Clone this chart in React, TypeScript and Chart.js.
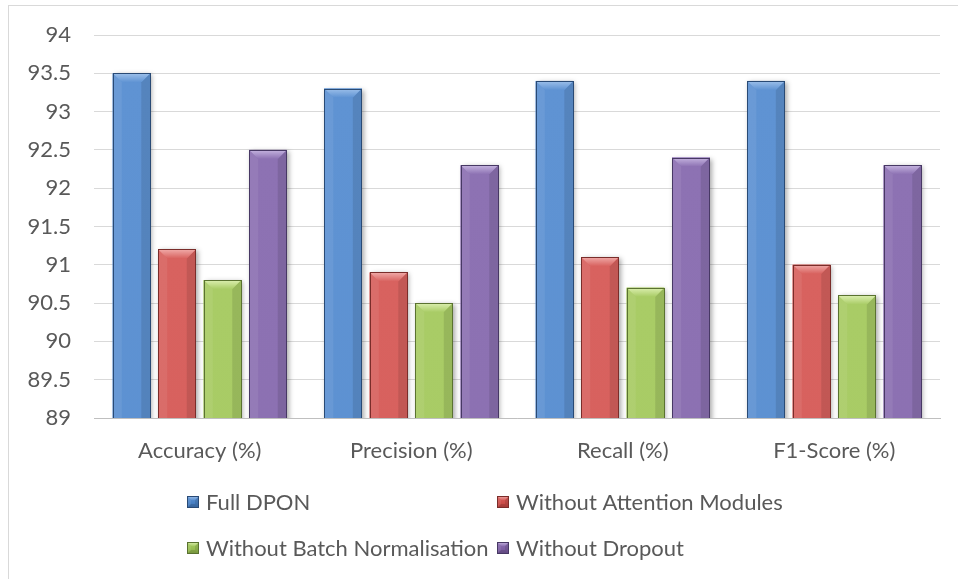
import React, { useEffect, useRef } from "react";
import { Chart, registerables } from "chart.js";

Chart.register(...registerables);

const categories = ["Accuracy (%)", "Precision (%)", "Recall (%)", "F1-Score (%)"];
const seriesNames = [
  "Full DPON",
  "Without Attention Modules",
  "Without Batch Normalisation",
  "Without Dropout",
];
const fullDpon = [93.5, 93.3, 93.4, 93.4];
const withoutAttention = [91.2, 90.9, 91.1, 91.0];
const withoutBatchNorm = [90.8, 90.5, 90.7, 90.6];
const withoutDropout = [92.5, 92.3, 92.4, 92.3];
const yMin = 89;
const yMax = 94;
const yStep = 0.5;

const seriesValues = [fullDpon, withoutAttention, withoutBatchNorm, withoutDropout];

const palette = [
  { light: "#9dc0ea", top: "#5f93d3", base: "#4a82c6", bottom: "#3b6fb0", edge: "#294a75" },
  { light: "#f0aaa8", top: "#d8625f", base: "#cd4f4b", bottom: "#b8403c", edge: "#7a2d2a" },
  { light: "#dcefb0", top: "#a9cc66", base: "#9bc155", bottom: "#86a944", edge: "#5a7230" },
  { light: "#c6b5e0", top: "#8d72b3", base: "#8062a6", bottom: "#6e5392", edge: "#473864" },
];

const FONT = "Lato, 'Open Sans', sans-serif";
const FONT_SIZE = 22;
const TEXT = "#595959";

function drawBevelBox(
  ctx: CanvasRenderingContext2D,
  left: number,
  top: number,
  right: number,
  bottom: number,
  pal: any,
  bev: number,
  shadow: boolean
) {
  const w = right - left;
  const h = bottom - top;
  if (w <= 0 || h <= 0) return;
  const b = Math.min(bev, w / 3, h / 2);
  ctx.save();
  if (shadow) {
    ctx.save();
    ctx.shadowColor = "rgba(0,0,0,0.35)";
    ctx.shadowBlur = 5;
    ctx.shadowOffsetX = 2;
    ctx.shadowOffsetY = 1;
    ctx.fillStyle = pal.base;
    ctx.fillRect(left, top, w, h);
    ctx.restore();
  }
  const g = ctx.createLinearGradient(0, top, 0, bottom);
  g.addColorStop(0, pal.top);
  g.addColorStop(0.5, pal.base);
  g.addColorStop(1, pal.bottom);
  ctx.fillStyle = g;
  ctx.fillRect(left, top, w, h);
  ctx.fillStyle = "rgba(255,255,255,0.07)";
  ctx.beginPath();
  ctx.moveTo(left, top);
  ctx.lineTo(left + b, top + b);
  ctx.lineTo(left + b, bottom - b);
  ctx.lineTo(left, bottom);
  ctx.closePath();
  ctx.fill();
  ctx.fillStyle = "rgba(0,0,0,0.10)";
  ctx.beginPath();
  ctx.moveTo(right, top);
  ctx.lineTo(right - b, top + b);
  ctx.lineTo(right - b, bottom - b);
  ctx.lineTo(right, bottom);
  ctx.closePath();
  ctx.fill();
  ctx.fillStyle = "rgba(0,0,0,0.12)";
  ctx.beginPath();
  ctx.moveTo(left, bottom);
  ctx.lineTo(left + b, bottom - b);
  ctx.lineTo(right - b, bottom - b);
  ctx.lineTo(right, bottom);
  ctx.closePath();
  ctx.fill();
  const tg = ctx.createLinearGradient(0, top, 0, top + b);
  tg.addColorStop(0, pal.light);
  tg.addColorStop(1, pal.top);
  ctx.fillStyle = tg;
  ctx.beginPath();
  ctx.moveTo(left, top);
  ctx.lineTo(right, top);
  ctx.lineTo(right - b, top + b);
  ctx.lineTo(left + b, top + b);
  ctx.closePath();
  ctx.fill();
  ctx.strokeStyle = pal.edge;
  ctx.lineWidth = 1;
  ctx.strokeRect(Math.round(left) + 0.5, Math.round(top) + 0.5, Math.round(w) - 1, Math.round(h) - 1);
  ctx.restore();
}

const bevelPlugin = {
  id: "bevelBars",
  afterDatasetsDraw(chart: any) {
    const ctx = chart.ctx as CanvasRenderingContext2D;
    const area = chart.chartArea;
    ctx.save();
    ctx.beginPath();
    ctx.rect(area.left, area.top - 2, area.right - area.left + 10, area.bottom - area.top + 2);
    ctx.clip();
    chart.data.datasets.forEach((_ds: any, di: number) => {
      const meta = chart.getDatasetMeta(di);
      meta.data.forEach((el: any) => {
        const p = el.getProps(["x", "y", "base", "width"], true);
        const left = p.x - p.width / 2;
        const right = p.x + p.width / 2;
        const top = Math.min(p.y, p.base);
        const bottom = Math.max(p.y, p.base);
        drawBevelBox(ctx, left, top, right, bottom, palette[di], 9, true);
      });
    });
    ctx.restore();
  },
};

const legendPlugin = {
  id: "gridLegend",
  afterDraw(chart: any) {
    const ctx = chart.ctx as CanvasRenderingContext2D;
    const cols = [178, 488];
    const rows = [496, 542];
    ctx.save();
    ctx.font = `${FONT_SIZE}px ${FONT}`;
    ctx.textBaseline = "middle";
    seriesNames.forEach((name, i) => {
      const cx = cols[i % 2];
      const cy = rows[Math.floor(i / 2)];
      drawBevelBox(ctx, cx, cy - 6, cx + 12, cy + 6, palette[i], 4, false);
      ctx.fillStyle = TEXT;
      ctx.fillText(name, cx + 19, cy + 1);
    });
    ctx.restore();
  },
};

export default function App() {
  const ref = useRef<HTMLCanvasElement | null>(null);

  useEffect(() => {
    if (!ref.current) return;
    const chart = new Chart(ref.current, {
      type: "bar",
      data: {
        labels: categories,
        datasets: seriesNames.map((name, i) => ({
          label: name,
          data: seriesValues[i],
          backgroundColor: palette[i].base,
          borderWidth: 0,
          categoryPercentage: 0.86,
          barPercentage: 0.825,
        })),
      },
      options: {
        responsive: false,
        animation: false,
        devicePixelRatio: 1,
        layout: { padding: { top: 29, right: 18, left: 0, bottom: 0 } },
        plugins: {
          legend: { display: false },
          tooltip: { enabled: false },
          title: { display: false },
        },
        scales: {
          x: {
            grid: { display: false, drawTicks: false },
            border: { display: true, color: "#bfbfbf", width: 1 },
            ticks: {
              color: TEXT,
              font: { family: FONT, size: FONT_SIZE },
              padding: 20,
              maxRotation: 0,
              autoSkip: false,
            },
            afterFit: (s: any) => {
              s.height = 161;
              s.paddingLeft = 0;
              s.paddingRight = 0;
            },
          },
          y: {
            min: yMin,
            max: yMax,
            grid: { color: "#d9d9d9", lineWidth: 1, drawTicks: false },
            border: { display: false },
            ticks: {
              stepSize: yStep,
              color: TEXT,
              font: { family: FONT, size: FONT_SIZE },
              padding: 23,
              callback: (v: any) => String(Math.round(Number(v) * 10) / 10),
            },
            afterFit: (s: any) => {
              s.width = 85;
              s.paddingTop = 0;
              s.paddingBottom = 0;
            },
          },
        },
      },
      plugins: [bevelPlugin, legendPlugin],
    });
    return () => chart.destroy();
  }, []);

  return (
    <div style={{ position: "fixed", left: 0, top: 0, width: 958, height: 579, overflow: "hidden", background: "#fff" }}>
      <div
        style={{
          position: "absolute",
          left: 8,
          top: 5,
          width: 1000,
          height: 700,
          borderLeft: "1px solid #d9d9d9",
          borderTop: "1px solid #d9d9d9",
        }}
      />
      <canvas
        ref={ref}
        width={949}
        height={573}
        style={{ position: "absolute", left: 9, top: 6, width: 949, height: 573 }}
      />
    </div>
  );
}
